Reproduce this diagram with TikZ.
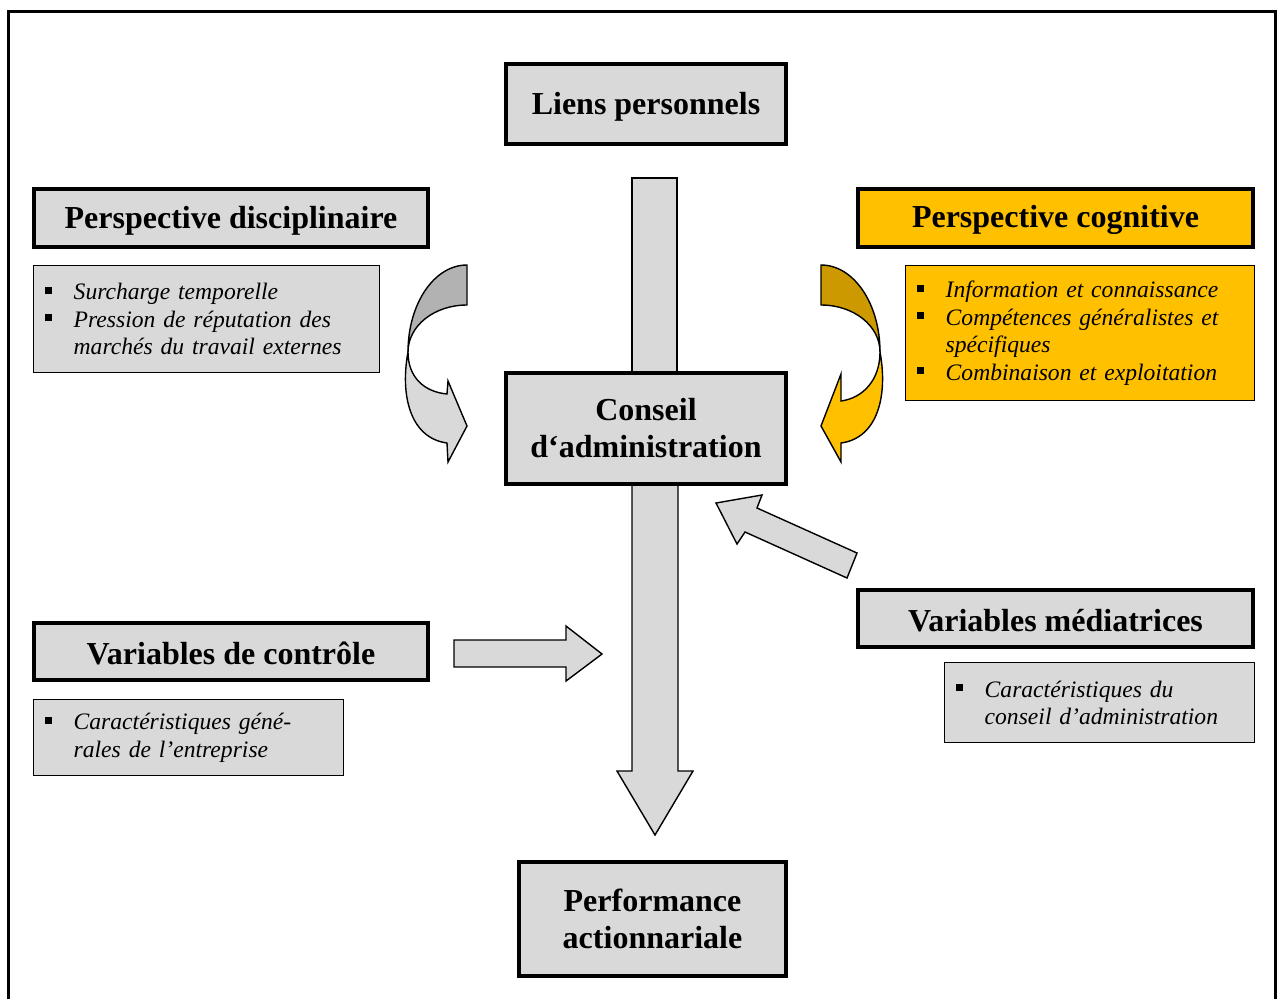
\documentclass[tikz,border=0pt]{standalone}
\usepackage{fontspec}
\setmainfont{Liberation Serif}
\definecolor{boxgray}{HTML}{D9D9D9}
\definecolor{backgray}{HTML}{B2B2B2}
\definecolor{gold}{HTML}{FFC000}
\definecolor{darkgold}{HTML}{CC9900}
% square bullet and hanging indent for the list boxes
\newcommand\bitem{\makebox[29pt][l]{\rule[6pt]{7pt}{7pt}}}
\newcommand\bcont{\hspace*{29pt}}
\begin{document}
\begin{tikzpicture}[x=1pt,y=-1pt,
  headbox/.style={draw, line width=3.5pt, fill=boxgray, align=center, inner sep=0pt,
    font=\bfseries\fontsize{32}{37}\selectfont,
    execute at begin node={\rule{0pt}{27pt}}},
  listbox/.style={draw, line width=1.4pt, fill=boxgray, align=left, inner xsep=11pt,
    inner ysep=0pt, anchor=north west, font=\itshape\fontsize{23.6}{27.5}\selectfont},
  blockarrow/.style={draw, line width=1.4pt, fill=boxgray, line join=miter}]
\useasboundingbox (0,0) rectangle (1277,999);

% outer frame
\draw[line width=3.3pt] (8.5,999) -- (8.5,11.8) -- (1275.5,11.8) -- (1275.5,999);

% vertical shafts behind the central box
\draw[blockarrow] (632,178) rectangle (677,372);
\draw[blockarrow] (632,480) -- (632,771) -- (617,771) -- (655,835) -- (693,771)
  -- (678,771) -- (678,480) -- cycle;

% central and terminal boxes
\node[headbox, minimum width=280, minimum height=80] (liens) at (646,104) {Liens personnels};
\node[headbox, minimum width=280, minimum height=111] (conseil) at (646,428.5)
  {Conseil\\d‘administration};
\node[headbox, minimum width=267, minimum height=114] (perf) at (652.5,919)
  {Performance\\actionnariale};

% left column
\node[headbox, minimum width=394, minimum height=58] (disc) at (231,218)
  {Perspective disciplinaire};
\node[listbox, text width=324, minimum height=107] (disclist) at (33,265)
  {\bitem Surcharge temporelle\\
   \bitem Pression de réputation des\\
   \bcont marchés du travail externes};
\node[headbox, minimum width=394, minimum height=57] (ctrl) at (231,651.5)
  {Variables de contrôle};
\node[listbox, text width=288, minimum height=76] (ctrllist) at (33,699)
  {\bitem Caractéristiques géné-\\
   \bcont rales de l’entreprise};

% right column
\node[headbox, fill=gold, minimum width=395, minimum height=58] (cog) at (1055.5,218)
  {Perspective cognitive};
\node[listbox, fill=gold, text width=327, minimum height=135] (coglist) at (905,265)
  {\bitem Information et connaissance\\
   \bitem Compétences généralistes et\\
   \bcont spécifiques\\
   \bitem Combinaison et exploitation};
\node[headbox, minimum width=395, minimum height=57] (med) at (1055.5,618.5)
  {Variables médiatrices};
\node[listbox, text width=288, minimum height=80] (medlist) at (944,662)
  {\bitem Caractéristiques du\\
   \bcont conseil d’administration};

% straight block arrows
\draw[blockarrow] (454,640) -- (566,640) -- (566,626) -- (602,654) -- (566,681)
  -- (566,667) -- (454,667) -- cycle;
\draw[blockarrow] (716,503) -- (762,495) -- (757,508) -- (857,553) -- (847,578)
  -- (745,532) -- (737,544) -- cycle;

% curved arrow, disciplinary side
\draw[blockarrow] (408,352) .. controls (408,378) and (425,392) .. (447,394)
  -- (448,381) -- (467,426) -- (448,462) -- (447,443)
  .. controls (410,438) and (400,395) .. (408,352) -- cycle;
\draw[blockarrow, fill=backgray] (467,265) -- (467,305)
  .. controls (434,305) and (408,326) .. (408,352)
  .. controls (408,304) and (434,265) .. (467,265) -- cycle;

% curved arrow, cognitive side
\draw[blockarrow, fill=gold] (880,352) .. controls (880,380) and (863,398) .. (841,401)
  -- (841,374) -- (821,426) -- (841,462) -- (841,443)
  .. controls (878,438) and (888,395) .. (880,352) -- cycle;
\draw[blockarrow, fill=darkgold] (821,265) -- (821,305)
  .. controls (854,305) and (880,326) .. (880,352)
  .. controls (880,304) and (854,265) .. (821,265) -- cycle;
\end{tikzpicture}
\end{document}
